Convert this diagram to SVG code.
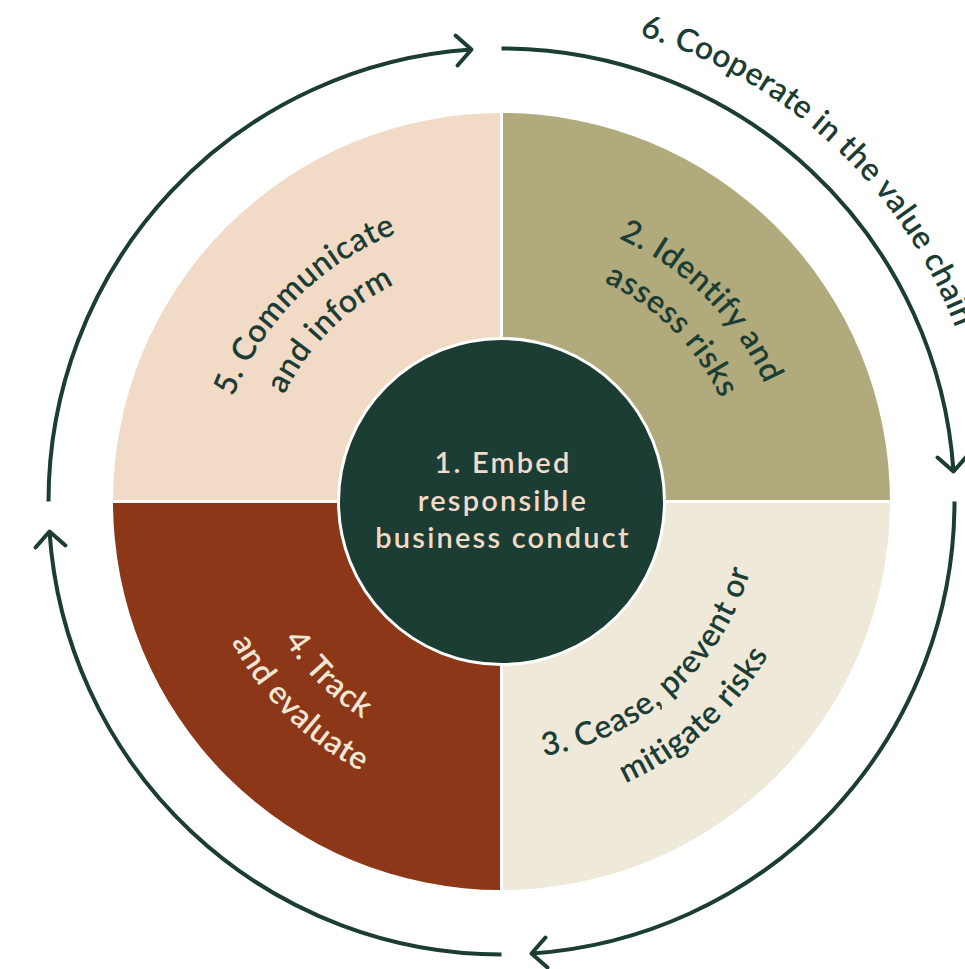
<svg xmlns="http://www.w3.org/2000/svg" width="965" height="969" viewBox="0 0 965 969">
  <style>
    .lbl { font-family: Lato, "Noto Sans", "DejaVu Sans", sans-serif; font-weight: 600; font-size: 32px; letter-spacing: 0.6px; }
    .dark { fill: #1c3d34; }
    .light { fill: #f0e6d4; }
    .mid { text-anchor: middle; }
    .centre { font-size: 29px; letter-spacing: 2.2px; fill: #f1dbc7; }
    .ring { fill: none; stroke: #1c3d34; stroke-width: 4; marker-end: url(#chev); }
    .sep { stroke: #ffffff; stroke-width: 3; }
  </style>
  <defs>
    <marker id="chev" markerUnits="userSpaceOnUse" markerWidth="44" markerHeight="44" viewBox="-22 -22 44 44" refX="0" refY="0" orient="auto">
      <path d="M-15,-15 L0,0 L-15,15" fill="none" stroke="#1c3d34" stroke-width="4" stroke-linecap="round" stroke-linejoin="round"/>
    </marker>
    <!-- baselines for the curved quadrant labels, all centred on (501.5, 501.5) -->
    <path id="q5a" d="M 252.1 645.5 A 288 288 0 0 1 645.5 252.1"/>
    <path id="q5b" d="M 291.9 622.5 A 242 242 0 0 1 622.5 291.9"/>
    <path id="q2a" d="M 357.5 252.1 A 288 288 0 0 1 750.9 645.5"/>
    <path id="q2b" d="M 380.5 291.9 A 242 242 0 0 1 711.1 622.5"/>
    <path id="q3a" d="M 361.0 717.9 A 258 258 0 0 0 731.4 384.4"/>
    <path id="q3b" d="M 333.8 759.8 A 308 308 0 0 0 775.9 361.7"/>
    <path id="q4a" d="M 278.1 372.5 A 258 258 0 0 0 630.5 724.9"/>
    <path id="q4b" d="M 238.2 349.5 A 304 304 0 0 0 653.5 764.8"/>
    <path id="coopArc" d="M 639.5 35.5 A 486 486 0 0 1 980.1 585.9"/>
  </defs>

  <rect width="965" height="969" fill="#ffffff"/>

  <!-- quadrant: communicate (top-left) -->
  <g id="node-communicate">
    <path d="M 501.5 501.5 L 113 501.5 A 388.5 388.5 0 0 1 501.5 113 Z" fill="#f1dbc7"/>
    <text class="lbl dark mid"><textPath href="#q5a" startOffset="50%">5. Communicate</textPath></text>
    <text class="lbl dark mid"><textPath href="#q5b" startOffset="50%">and inform</textPath></text>
  </g>

  <!-- quadrant: identify (top-right) -->
  <g id="node-identify">
    <path d="M 501.5 501.5 L 501.5 113 A 388.5 388.5 0 0 1 890 501.5 Z" fill="#b0aa7c"/>
    <text class="lbl dark mid"><textPath href="#q2a" startOffset="50%">2. Identify and</textPath></text>
    <text class="lbl dark mid"><textPath href="#q2b" startOffset="50%">assess risks</textPath></text>
  </g>

  <!-- quadrant: cease (bottom-right) -->
  <g id="node-cease">
    <path d="M 501.5 501.5 L 890 501.5 A 388.5 388.5 0 0 1 501.5 890 Z" fill="#eee9d9"/>
    <text class="lbl dark mid"><textPath href="#q3a" startOffset="50%">3. Cease, prevent or</textPath></text>
    <text class="lbl dark mid"><textPath href="#q3b" startOffset="50%">mitigate risks</textPath></text>
  </g>

  <!-- quadrant: track (bottom-left) -->
  <g id="node-track">
    <path d="M 501.5 501.5 L 501.5 890 A 388.5 388.5 0 0 1 113 501.5 Z" fill="#8c3718"/>
    <text class="lbl light mid"><textPath href="#q4a" startOffset="50%">4. Track</textPath></text>
    <text class="lbl light mid"><textPath href="#q4b" startOffset="50%">and evaluate</textPath></text>
  </g>

  <!-- white gaps between the quadrants -->
  <g id="separators">
    <line class="sep" x1="501.5" y1="110" x2="501.5" y2="893"/>
    <line class="sep" x1="110" y1="501.5" x2="893" y2="501.5"/>
  </g>

  <!-- centre: embed -->
  <g id="node-embed">
    <circle cx="501.5" cy="501.5" r="163" fill="#1c3d34" stroke="#ffffff" stroke-width="3"/>
    <text class="lbl mid centre" x="503" y="473">1. Embed</text>
    <text class="lbl mid centre" x="503" y="511">responsible</text>
    <text class="lbl mid centre" x="503" y="548">business conduct</text>
  </g>

  <!-- outer cycle arrows -->
  <g id="connectors">
    <path class="ring" d="M 501.5 48.5 A 453 453 0 0 1 953.5 471.5"/>
    <path class="ring" d="M 954.5 501.5 A 453 453 0 0 1 531.5 953.5"/>
    <path class="ring" d="M 501.5 954.5 A 453 453 0 0 1 49.5 531.5"/>
    <path class="ring" d="M 48.5 501.5 A 453 453 0 0 1 471.5 49.5"/>
  </g>

  <!-- label running along the cycle -->
  <g id="node-cooperate">
    <text class="lbl dark" style="letter-spacing:0.3px"><textPath href="#coopArc">6. Cooperate in the value chain</textPath></text>
  </g>
</svg>
